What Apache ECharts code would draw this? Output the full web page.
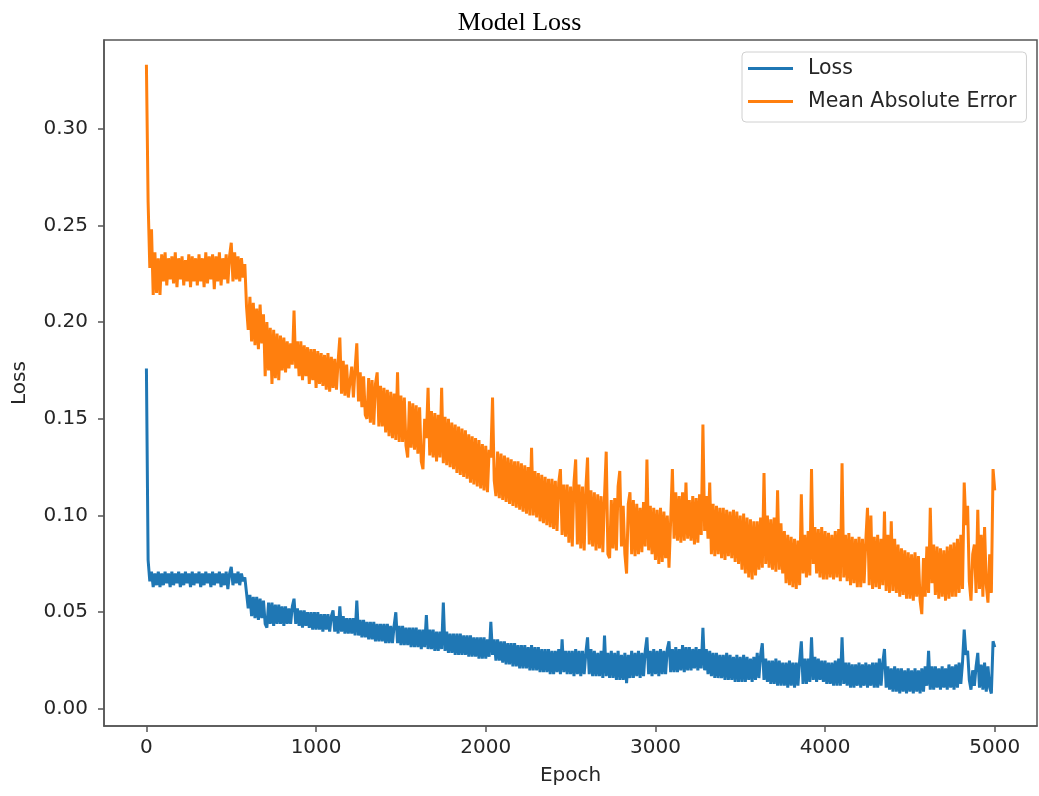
<!DOCTYPE html>
<html>
<head>
<meta charset="utf-8">
<script src="https://cdn.jsdelivr.net/npm/echarts@6/dist/echarts.min.js"></script>
<style>html,body{margin:0;padding:0;background:#fff}#c{width:1039px;height:796px}</style>
</head>
<body>
<div id="c"></div>
<script>
// Read every 10 epochs: alternating upper/lower edges of the noisy band, plus the visible spikes.
const epochStep = 10;
const lossValues = [
0.176,0.077,0.066,0.071,0.063,0.070,0.064,0.071,0.063,0.070,
0.064,0.071,0.065,0.070,0.063,0.071,0.064,0.070,0.065,0.071,
0.063,0.070,0.064,0.071,0.065,0.070,0.063,0.071,0.064,0.070,
0.065,0.071,0.063,0.070,0.064,0.071,0.065,0.070,0.063,0.071,
0.064,0.070,0.065,0.071,0.063,0.070,0.064,0.071,0.062,0.070,
0.0735,0.064,0.070,0.065,0.071,0.064,0.070,0.066,0.068,0.060,
0.052,0.059,0.048,0.058,0.047,0.058,0.046,0.057,0.047,0.056,
0.044,0.042,0.055,0.044,0.055,0.043,0.054,0.044,0.054,0.044,
0.053,0.043,0.053,0.044,0.052,0.044,0.053,0.057,0.044,0.052,
0.043,0.051,0.042,0.051,0.043,0.050,0.042,0.050,0.041,0.050,
0.041,0.050,0.041,0.049,0.040,0.049,0.041,0.049,0.040,0.048,
0.051,0.040,0.048,0.039,0.053,0.040,0.048,0.039,0.047,0.039,
0.047,0.039,0.047,0.038,0.056,0.038,0.046,0.037,0.046,0.037,
0.045,0.036,0.045,0.036,0.045,0.035,0.044,0.035,0.044,0.035,
0.044,0.034,0.044,0.034,0.043,0.034,0.043,0.050,0.034,0.043,
0.033,0.043,0.033,0.042,0.033,0.042,0.032,0.042,0.032,0.042,
0.032,0.041,0.031,0.041,0.032,0.0486,0.031,0.041,0.031,0.041,
0.030,0.040,0.030,0.040,0.031,0.055,0.030,0.040,0.029,0.039,
0.029,0.039,0.028,0.039,0.028,0.039,0.028,0.038,0.028,0.038,
0.027,0.038,0.027,0.037,0.027,0.037,0.026,0.037,0.026,0.037,
0.026,0.036,0.027,0.045,0.028,0.036,0.025,0.036,0.025,0.035,
0.024,0.035,0.023,0.034,0.023,0.034,0.022,0.034,0.022,0.033,
0.021,0.033,0.021,0.033,0.021,0.032,0.020,0.033,0.020,0.032,
0.020,0.032,0.019,0.031,0.019,0.031,0.019,0.031,0.018,0.030,
0.018,0.030,0.019,0.031,0.018,0.036,0.019,0.030,0.018,0.030,
0.018,0.030,0.017,0.031,0.018,0.030,0.017,0.030,0.018,0.029,
0.037,0.018,0.031,0.017,0.030,0.017,0.029,0.017,0.030,0.016,
0.038,0.017,0.029,0.016,0.030,0.016,0.029,0.015,0.030,0.015,
0.028,0.015,0.029,0.0134,0.028,0.016,0.030,0.016,0.029,0.017,
0.030,0.016,0.029,0.017,0.030,0.037,0.018,0.030,0.017,0.031,
0.018,0.030,0.017,0.031,0.018,0.030,0.018,0.031,0.035,0.019,
0.031,0.019,0.032,0.019,0.031,0.020,0.033,0.019,0.032,0.020,
0.032,0.020,0.031,0.021,0.032,0.020,0.031,0.021,0.042,0.020,
0.031,0.018,0.030,0.017,0.029,0.016,0.029,0.016,0.028,0.016,
0.028,0.015,0.029,0.015,0.028,0.015,0.027,0.014,0.028,0.014,
0.027,0.014,0.028,0.014,0.027,0.015,0.026,0.014,0.027,0.015,
0.029,0.016,0.028,0.034,0.015,0.026,0.014,0.025,0.013,0.025,
0.013,0.026,0.012,0.025,0.012,0.024,0.012,0.024,0.011,0.025,
0.012,0.024,0.011,0.024,0.012,0.025,0.035,0.013,0.026,0.013,
0.026,0.014,0.037,0.015,0.027,0.014,0.026,0.015,0.025,0.014,
0.025,0.013,0.024,0.013,0.024,0.012,0.025,0.012,0.026,0.012,
0.037,0.013,0.024,0.012,0.024,0.011,0.023,0.011,0.023,0.012,
0.024,0.011,0.023,0.012,0.024,0.011,0.023,0.012,0.024,0.011,
0.024,0.011,0.026,0.012,0.024,0.031,0.011,0.022,0.010,0.021,
0.009,0.022,0.009,0.021,0.008,0.021,0.009,0.020,0.008,0.021,
0.009,0.020,0.008,0.021,0.009,0.020,0.008,0.021,0.009,0.022,
0.012,0.030,0.010,0.022,0.010,0.022,0.011,0.021,0.010,0.022,
0.011,0.021,0.010,0.023,0.011,0.022,0.010,0.023,0.011,0.024,
0.013,0.024,0.041,0.028,0.030,0.015,0.010,0.020,0.012,0.022,
0.029,0.011,0.023,0.010,0.024,0.009,0.022,0.011,0.008,0.035,
0.032
];
const maeValues = [
0.333,0.262,0.228,0.248,0.214,0.236,0.215,0.233,0.214,0.235,
0.221,0.236,0.219,0.233,0.222,0.234,0.220,0.236,0.218,0.233,
0.222,0.234,0.219,0.232,0.221,0.235,0.218,0.234,0.221,0.233,
0.219,0.235,0.221,0.233,0.218,0.236,0.220,0.234,0.222,0.235,
0.217,0.234,0.221,0.236,0.219,0.233,0.222,0.235,0.220,0.234,
0.241,0.221,0.236,0.222,0.234,0.221,0.233,0.223,0.230,0.208,
0.196,0.213,0.190,0.210,0.188,0.207,0.186,0.209,0.189,0.204,
0.172,0.200,0.175,0.197,0.168,0.196,0.171,0.194,0.170,0.193,
0.175,0.192,0.174,0.190,0.176,0.189,0.178,0.206,0.176,0.190,
0.172,0.190,0.170,0.188,0.172,0.187,0.168,0.186,0.170,0.186,
0.166,0.185,0.168,0.184,0.167,0.183,0.165,0.184,0.164,0.182,
0.166,0.181,0.165,0.180,0.192,0.163,0.180,0.162,0.178,0.161,
0.160,0.177,0.161,0.176,0.189,0.159,0.174,0.156,0.172,0.152,
0.150,0.171,0.148,0.170,0.147,0.168,0.174,0.146,0.167,0.146,
0.166,0.143,0.165,0.141,0.164,0.140,0.163,0.139,0.174,0.138,
0.162,0.138,0.161,0.136,0.130,0.159,0.135,0.158,0.134,0.157,
0.132,0.156,0.128,0.124,0.150,0.140,0.166,0.131,0.154,0.130,
0.153,0.128,0.152,0.130,0.166,0.127,0.151,0.126,0.150,0.125,
0.148,0.124,0.147,0.122,0.146,0.121,0.145,0.120,0.144,0.119,
0.142,0.117,0.141,0.116,0.140,0.115,0.139,0.114,0.137,0.113,
0.136,0.112,0.134,0.130,0.161,0.118,0.110,0.133,0.109,0.132,
0.108,0.131,0.107,0.130,0.106,0.129,0.105,0.128,0.104,0.128,
0.103,0.127,0.102,0.126,0.101,0.125,0.100,0.135,0.100,0.123,
0.099,0.122,0.097,0.121,0.096,0.120,0.095,0.119,0.094,0.119,
0.093,0.118,0.092,0.117,0.124,0.090,0.116,0.089,0.116,0.086,
0.115,0.084,0.117,0.129,0.085,0.116,0.083,0.115,0.082,0.114,
0.130,0.085,0.113,0.084,0.112,0.082,0.111,0.083,0.110,0.081,
0.110,0.133,0.080,0.078,0.108,0.083,0.109,0.082,0.115,0.123,
0.084,0.105,0.080,0.070,0.106,0.112,0.080,0.108,0.079,0.106,
0.080,0.104,0.081,0.107,0.084,0.129,0.082,0.105,0.080,0.104,
0.077,0.103,0.075,0.104,0.076,0.102,0.078,0.100,0.073,0.098,
0.124,0.088,0.112,0.087,0.110,0.086,0.112,0.087,0.117,0.088,
0.108,0.087,0.110,0.085,0.109,0.086,0.111,0.090,0.147,0.092,
0.110,0.088,0.117,0.080,0.106,0.079,0.105,0.080,0.104,0.078,
0.104,0.077,0.103,0.079,0.102,0.078,0.103,0.076,0.102,0.075,
0.100,0.072,0.101,0.070,0.099,0.068,0.098,0.067,0.097,0.069,
0.097,0.072,0.099,0.073,0.122,0.075,0.100,0.073,0.098,0.072,
0.099,0.071,0.113,0.072,0.096,0.070,0.092,0.065,0.090,0.064,
0.089,0.063,0.088,0.062,0.087,0.064,0.111,0.070,0.090,0.068,
0.092,0.069,0.124,0.075,0.094,0.070,0.093,0.068,0.094,0.067,
0.092,0.067,0.091,0.068,0.090,0.067,0.092,0.068,0.093,0.066,
0.127,0.068,0.090,0.066,0.091,0.064,0.089,0.065,0.088,0.063,
0.089,0.063,0.088,0.065,0.087,0.104,0.064,0.100,0.062,0.089,
0.063,0.090,0.062,0.088,0.064,0.102,0.061,0.090,0.060,0.097,
0.061,0.088,0.060,0.085,0.058,0.083,0.059,0.082,0.057,0.081,
0.057,0.080,0.056,0.081,0.058,0.079,0.056,0.049,0.078,0.058,
0.084,0.060,0.104,0.065,0.085,0.059,0.084,0.057,0.083,0.058,
0.082,0.056,0.084,0.057,0.085,0.058,0.086,0.058,0.088,0.060,
0.090,0.062,0.117,0.095,0.105,0.066,0.056,0.080,0.085,0.060,
0.103,0.062,0.090,0.058,0.094,0.064,0.055,0.080,0.060,0.124,
0.113
];
const xTicks = [0, 1000, 2000, 3000, 4000, 5000];
const yTicks = [0.00, 0.05, 0.10, 0.15, 0.20, 0.25, 0.30];
const seriesNames = ['Loss', 'Mean Absolute Error'];

const toPairs = vals => vals.map((v, i) => [i * epochStep, v]);
const font = 'DejaVu Sans';
const txt = '#262626';
const chart = echarts.init(document.getElementById('c'), null, {renderer: 'canvas'});
chart.setOption({
  animation: false,
  backgroundColor: '#fff',
  title: {
    text: 'Model Loss', left: 'center', top: 5,
    textStyle: {fontFamily: 'Liberation Serif', fontSize: 26, fontWeight: 'normal', color: '#000'}
  },
  grid: {left: 104, top: 40, right: 2, bottom: 70, show: true, borderColor: '#555', borderWidth: 1.5, backgroundColor: 'transparent'},
  legend: {
    orient: 'vertical', left: 742, top: 52,
    data: seriesNames,
    icon: 'rect', itemWidth: 45, itemHeight: 3, itemGap: 12,
    padding: [6, 10, 10, 6],
    backgroundColor: 'rgba(255,255,255,0.8)', borderColor: '#d0d0d0', borderWidth: 1, borderRadius: 4,
    textStyle: {fontFamily: font, fontSize: 20.5, color: txt, padding: [0, 0, 0, 10]}
  },
  xAxis: {
    type: 'value', min: -250, max: 5249,
    name: 'Epoch', nameLocation: 'middle', nameGap: 40,
    nameTextStyle: {fontFamily: font, fontSize: 20, color: txt},
    axisLine: {show: true, onZero: false, lineStyle: {color: '#555', width: 1.5}},
    axisTick: {show: true, length: 6, customValues: xTicks, lineStyle: {color: '#555', width: 1.5}},
    axisLabel: {customValues: xTicks, fontFamily: font, fontSize: 20, color: txt, margin: 12, formatter: v => String(v)},
    splitLine: {show: false}
  },
  yAxis: {
    type: 'value', min: -0.0088, max: 0.3458,
    name: 'Loss', nameLocation: 'middle', nameGap: 74, nameRotate: 90,
    nameTextStyle: {fontFamily: font, fontSize: 20, color: txt},
    axisLine: {show: true, onZero: false, lineStyle: {color: '#555', width: 1.5}},
    axisTick: {show: true, length: 6, customValues: yTicks, lineStyle: {color: '#555', width: 1.5}},
    axisLabel: {customValues: yTicks, fontFamily: font, fontSize: 20, color: txt, margin: 16, formatter: v => v.toFixed(2)},
    splitLine: {show: false}
  },
  series: [
    {name: seriesNames[0], type: 'line', data: toPairs(lossValues), showSymbol: false, symbol: 'none',
     lineStyle: {color: '#1f77b4', width: 3}, itemStyle: {color: '#1f77b4'}},
    {name: seriesNames[1], type: 'line', data: toPairs(maeValues), showSymbol: false, symbol: 'none',
     lineStyle: {color: '#ff7f0e', width: 3}, itemStyle: {color: '#ff7f0e'}}
  ]
});
</script>
</body>
</html>
